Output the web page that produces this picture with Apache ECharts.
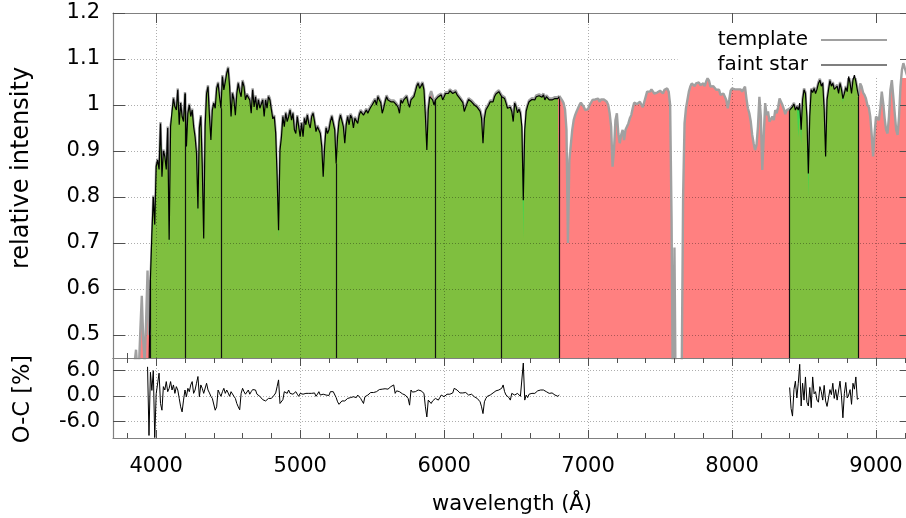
<!DOCTYPE html>
<html>
<head>
<meta charset="utf-8">
<script src="https://cdn.jsdelivr.net/npm/echarts@6/dist/echarts.min.js"></script>
<style>
  html, body { margin: 0; padding: 0; background: #fff; }
  #chart { width: 906px; height: 518px; }
</style>
</head>
<body>
<div id="chart"></div>
<script>
// Wavelength grid spacing (Angstrom) shared by every spectrum below
const STEP = 10;

// Template spectrum, 3700..9250 A, one row per 100 A
const templateStart = 3700;
const templateFlux = [
  0.30,0.30,0.30,0.30,0.30,0.30,0.30,0.30,0.30,0.30,
  0.30,0.30,0.30,0.35,0.40,0.44,0.468,0.42,0.43,0.51,
  0.585,0.49,0.44,0.53,0.64,0.50,0.62,0.70,0.803,0.73,
  0.869,0.883,0.863,0.963,0.84,0.903,0.891,0.863,0.953,0.69,
  0.956,0.975,1.017,0.999,0.992,1.036,0.96,1.007,0.978,0.967,
  1.028,0.905,0.985,1.003,0.978,0.992,0.956,0.934,0.898,0.765,
  0.953,0.978,0.869,0.70,0.956,1.028,1.043,0.978,0.927,0.992,
  1.007,0.996,1.039,1.05,1.021,0.996,1.065,1.036,1.054,1.072,
  1.083,1.043,0.97,1.028,1.014,0.981,1.028,1.05,1.032,1.021,
  1.054,1.043,1.014,1.025,1.028,1.014,0.985,1.036,0.999,1.021,
  0.992,1.014,0.996,0.992,1.014,0.978,1.014,0.996,1.021,1.014,
  0.993,0.973,0.978,0.941,0.83,0.71,0.905,0.933,0.978,0.956,
  0.985,0.967,0.978,0.992,0.97,0.985,0.949,0.941,0.978,0.956,
  0.934,0.963,0.934,0.974,0.96,0.981,0.963,0.953,0.978,0.985,
  0.967,0.945,0.956,0.953,0.941,0.912,0.837,0.912,0.953,0.941,
  0.949,0.967,0.978,0.974,0.949,0.876,0.934,0.967,0.981,0.981,
  0.956,0.92,0.96,0.978,0.96,0.981,0.974,0.953,0.974,0.978,
  0.963,0.981,0.989,0.989,0.981,0.978,0.992,0.985,0.992,0.998,
  1.003,1.005,1.014,1.003,1.021,1.014,1.008,0.985,0.996,1.01,
  1.021,1.014,1.014,1.01,1.007,1.01,1.014,1.003,0.998,0.985,
  1.014,1.007,1.014,1.017,1.021,1.007,0.998,1.014,1.014,1.021,
  1.032,1.044,1.05,1.039,1.043,1.05,1.036,0.99,0.94,0.995,
  1.021,1.03,1.02,1.003,1.014,1.017,1.021,1.023,1.025,1.014,
  1.021,1.028,1.032,1.028,1.034,1.036,1.028,1.025,1.032,1.025,
  1.021,1.017,1.014,1.008,0.989,0.985,1.007,1.015,1.014,1.01,
  1.007,1.003,1.001,0.998,0.994,0.989,0.978,0.94,0.976,0.992,
  0.996,1.003,1.01,1.014,1.01,1.021,1.027,1.026,1.032,1.028,
  1.021,1.025,1.017,1.007,0.996,0.992,0.998,0.989,0.967,1.007,
  0.999,0.986,0.994,0.985,0.94,0.71,0.93,0.989,1.001,1.01,
  1.014,1.015,1.017,1.014,1.021,1.017,1.023,1.025,1.02,1.025,
  1.014,1.021,1.017,1.014,1.017,1.014,1.015,1.017,1.014,1.017,
  1.02,1.015,1.01,1.004,0.99,0.946,0.70,0.88,0.88,0.946,
  0.967,0.978,0.986,0.993,1.0,1.005,1.004,0.996,0.989,0.986,
  0.991,1.0,1.005,1.011,1.009,1.012,1.011,1.014,1.007,1.012,
  1.011,1.012,1.009,1.007,1.0,0.982,0.953,0.866,0.902,0.967,
  0.982,0.938,0.917,0.935,0.946,0.924,0.946,0.95,0.96,0.971,
  0.978,0.993,1.005,1.007,1.002,1.004,1.007,1.004,0.995,0.993,
  1.018,1.029,1.031,1.029,1.034,1.031,1.025,1.029,1.027,1.029,
  1.031,1.029,1.025,1.033,1.034,1.036,1.029,1.0,0.75,0.30,
  0.69,0.30,0.30,0.30,0.35,0.40,0.80,0.96,0.993,1.011,
  1.029,1.04,1.047,1.051,1.041,1.047,1.043,1.049,1.043,1.04,
  1.047,1.041,1.051,1.058,1.053,1.04,1.038,1.041,1.038,1.033,
  1.036,1.033,1.022,1.022,1.025,1.018,1.011,0.993,1.011,1.031,
  1.036,1.04,1.034,1.031,1.034,1.036,1.034,1.029,1.025,1.04,
  1.014,0.993,0.982,0.964,0.935,0.917,0.902,0.913,0.953,1.018,
  0.975,0.859,0.931,1.004,0.978,0.986,0.964,0.96,0.975,0.967,
  0.989,0.982,0.995,1.014,1.011,1.0,0.991,0.98,0.989,0.993,
  0.992,0.994,0.999,1.005,0.992,0.999,0.93,0.975,0.915,1.014,
  1.036,1.028,0.96,0.80,0.97,1.036,1.03,1.039,1.028,1.037,
  1.05,1.057,1.044,1.05,0.992,0.885,1.014,1.036,1.056,1.044,
  1.05,1.037,1.039,1.044,1.028,1.05,1.037,1.005,1.028,1.041,
  1.032,1.065,1.05,1.028,1.057,1.068,1.054,1.036,1.021,1.047,
  1.04,1.027,1.022,1.014,1.0,0.995,0.975,0.935,0.888,0.938,
  0.975,0.978,0.967,0.993,1.029,1.004,0.971,0.946,0.938,0.975,
  1.033,1.054,1.018,0.982,0.946,0.935,0.975,1.04,1.076,1.091,
  1.08,1.07,1.06,1.05,1.045,1.04
];

// Faint star, blue part: 3950..6800 A
const starStart1 = 3950;
const starFlux1 = [
  0.42,0.62,0.72,0.80,0.74,
  0.866,0.88,0.86,0.96,0.844,0.90,0.888,0.86,0.95,0.707,
  0.953,0.986,1.014,0.996,0.989,1.033,0.957,1.004,0.975,0.964,
  1.025,0.91,0.982,1.0,0.975,0.989,0.953,0.931,0.895,0.775,
  0.95,0.975,0.866,0.71,0.953,1.025,1.04,0.975,0.924,0.989,
  1.004,0.993,1.036,1.047,1.018,0.993,1.062,1.033,1.051,1.069,
  1.08,1.04,0.975,1.025,1.011,0.978,1.025,1.047,1.029,1.018,
  1.051,1.04,1.011,1.022,1.025,1.011,0.982,1.033,0.996,1.018,
  0.989,1.011,0.993,0.989,1.011,0.975,1.011,0.993,1.018,1.011,
  0.99,0.97,0.975,0.938,0.844,0.728,0.902,0.93,0.975,0.953,
  0.982,0.964,0.975,0.989,0.967,0.982,0.946,0.938,0.975,0.953,
  0.931,0.96,0.931,0.971,0.957,0.978,0.96,0.95,0.975,0.982,
  0.964,0.942,0.953,0.95,0.938,0.909,0.844,0.909,0.95,0.938,
  0.946,0.964,0.975,0.971,0.946,0.873,0.931,0.964,0.978,0.978,
  0.953,0.917,0.957,0.975,0.957,0.978,0.971,0.95,0.971,0.975,
  0.96,0.978,0.986,0.986,0.978,0.975,0.989,0.982,0.989,0.995,
  1.0,1.002,1.011,1.0,1.018,1.011,1.005,0.982,0.993,1.007,
  1.018,1.011,1.011,1.007,1.004,1.007,1.011,1.0,0.995,0.982,
  1.011,1.004,1.011,1.014,1.018,1.004,0.995,1.011,1.011,1.018,
  1.029,1.041,1.047,1.036,1.04,1.047,1.033,0.975,0.902,0.989,
  1.018,1.02,1.011,1.0,1.011,1.014,1.018,1.02,1.022,1.011,
  1.018,1.025,1.029,1.025,1.031,1.033,1.025,1.022,1.029,1.022,
  1.018,1.014,1.011,1.005,0.986,0.982,1.004,1.012,1.011,1.007,
  1.004,1.0,0.998,0.995,0.991,0.986,0.971,0.917,0.971,0.989,
  0.993,1.0,1.007,1.011,1.007,1.018,1.024,1.023,1.029,1.025,
  1.018,1.022,1.014,1.004,0.993,0.989,0.995,0.986,0.964,1.004,
  0.996,0.983,0.991,0.982,0.953,0.793,0.946,0.986,0.998,1.007,
  1.011,1.012,1.014,1.011,1.018,1.014,1.02,1.022,1.017,1.022,
  1.011,1.018,1.014,1.011,1.014,1.011,1.012,1.014,1.011,1.014,
  1.018
];

// Faint star, Ca II triplet part: 8400..8880 A
const starStart2 = 8400;
const starFlux2 = [
  0.989,0.991,0.996,1.002,0.989,0.996,0.989,1.004,0.946,1.011,
  1.033,1.025,0.975,0.851,0.975,1.033,1.027,1.036,1.025,1.034,
  1.047,1.054,1.041,1.047,0.989,0.888,1.011,1.033,1.053,1.041,
  1.047,1.034,1.036,1.041,1.025,1.047,1.034,1.014,1.025,1.038,
  1.029,1.062,1.047,1.025,1.054,1.065,1.051,1.033,1.018
];

// Observed minus computed, percent
const ocStart1 = 3940;
const ocPct1 = [
  6.9,-9.4,5.6,1.3,6.0,-9.9,
  0.5,0.6,5.4,-1.8,-3.4,2.2,1.4,3.4,1.0,1.8,
  3.4,1.4,2.6,0.6,2.2,1.4,-0.6,-2.6,-3.8,-1.0,
  1.4,-0.2,1.8,1.0,2.6,3.4,0.6,1.4,3.0,4.6,
  -0.2,2.6,1.8,0.6,0.2,3.0,1.4,0.7,-0.1,-0.6,
  -0.6,-3.4,-2.6,1.4,0.6,-0.1,1.0,1.8,0.6,1.4,
  0.7,-0.1,1.0,0.7,-0.1,-0.6,-1.8,-2.6,-3.3,0.6,
  1.8,1.0,0.4,0.4,1.4,0.4,1.0,1.5,1.8,1.4,
  0.4,0.6,-0.1,-0.2,-0.9,-0.6,-1.2,-1.0,-0.6,-0.4,
  -0.6,-0.2,0.2,0.7,2.2,3.8,-1.8,-2.2,-0.9,1.0,
  0.7,0.6,1.4,0.6,1.0,0.4,0.7,1.0,0.4,-0.1,
  0.6,0.7,0.4,0.1,0.6,0.9,0.6,0.2,0.6,0.4,
  0.7,-0.1,0.4,1.0,0.2,0.6,0.4,0.7,0.2,-0.1,
  0.1,1.0,1.4,1.0,0.7,-0.4,-1.4,-2.0,-1.8,-1.2,
  -1.0,-1.2,-0.9,-0.6,-0.9,-0.4,-0.6,-0.2,-0.1,-0.4,
  0.2,-0.2,-0.6,-1.0,-1.8,-0.2,0.0,0.2,0.4,0.8,
  1.0,0.8,0.6,1.0,1.4,1.5,1.8,1.6,1.5,1.7,
  1.8,1.6,1.9,2.2,2.5,2.6,0.6,1.2,1.4,1.0,
  0.6,0.5,0.3,0.2,0.2,-0.6,-2.2,1.4,0.9,1.2,
  1.0,1.2,1.4,1.4,1.2,1.4,0.6,-2.6,-5.0,-1.0,
  -0.6,-1.8,-1.2,-0.9,-0.6,-0.9,-1.0,-0.4,0.2,-0.1,
  -0.2,-0.1,0.4,0.6,0.4,0.2,0.7,1.8,1.5,1.4,
  1.4,0.7,0.6,0.7,1.0,0.8,0.4,0.2,0.6,0.4,
  0.2,-0.2,-0.4,-0.6,-0.6,-1.4,-2.6,-4.2,-1.4,-0.6,
  -0.1,0.2,0.2,0.6,0.7,1.0,1.2,1.4,1.4,1.6,
  1.8,2.6,1.0,0.2,-0.1,-0.4,-1.0,0.6,0.3,0.2,
  0.4,0.6,0.2,-0.1,-0.2,7.8,-1.0,0.2,-0.4,0.4,
  0.6,0.6,0.4,0.6,0.7,1.2,1.0,1.4,1.1,1.4,
  1.4,1.0,0.7,0.6,0.6,0.7,0.4,0.2,0.2,-0.1,
  0.2
];
const ocStart2 = 8400;
const ocPct2 = [
  2.0,-3.0,-4.8,1.5,3.5,-0.5,3.0,7.5,-2.4,3.0,
  -1.0,4.5,-1.5,-2.4,2.0,-2.8,4.5,0.5,1.0,-1.0,
  -1.5,2.2,1.0,-1.0,2.5,-1.2,-2.5,-2.5,1.5,0.3,
  3.0,-0.6,1.5,-1.0,-1.2,3.5,0.0,-5.2,0.5,3.2,
  -0.5,0.2,1.5,-2.0,3.0,1.6,4.5,-0.8,-0.6
];

// Boundaries between the merged spectral pieces of the faint star
const pieceEdges = [3960, 4200, 4450, 5250, 5940, 6400, 6800, 8400, 8880];

// Axis ticks and labels
const xMajor = [4000, 5000, 6000, 7000, 8000, 9000];
const xMinor = [3800, 4000, 4200, 4400, 4600, 4800, 5000, 5200, 5400, 5600, 5800,
  6000, 6200, 6400, 6600, 6800, 7000, 7200, 7400, 7600, 7800, 8000, 8200, 8400,
  8600, 8800, 9000, 9200];
const yFluxTicks = [0.5, 0.6, 0.7, 0.8, 0.9, 1.0, 1.1, 1.2];
const yOcTicks = [-6, 0, 6];

// ---------------------------------------------------------------
const FONT = 'DejaVu Sans';
const RED = '#ff8080';
const OLIVE = '#7fbf3f';
const BRIGHT = '#3fd84e';
const GRAY = '#a0a0a0';
const FRAME = '#808080';
const TICK = '#505050';
const X_MIN = 3700, X_MAX = 9250;
const Y_MIN = 0.45, Y_MAX = 1.2;

const starRanges = [
  [starStart1, starStart1 + (starFlux1.length - 1) * STEP],
  [starStart2, starStart2 + (starFlux2.length - 1) * STEP]
];
const inRange = (w) => starRanges.some(([a, b]) => w >= a && w <= b);
const strictlyInRange = (w) => starRanges.some(([a, b]) => w > a && w < b);

const templatePts = templateFlux.map((v, i) => [templateStart + i * STEP, v]);
const tmplAt = new Map(templatePts.map(p => [p[0], p[1]]));

const starPts = [];
const starAt = new Map();
starFlux1.forEach((v, i) => { const w = starStart1 + i * STEP; starPts.push([w, v]); starAt.set(w, v); });
starPts.push([starRanges[0][1] + STEP, '-']);
starFlux2.forEach((v, i) => { const w = starStart2 + i * STEP; starPts.push([w, v]); starAt.set(w, v); });

// area under both curves (lower envelope) inside the star ranges
const lowerPts = starPts.map(p => p[1] === '-' ? p : [p[0], Math.min(p[1], tmplAt.get(p[0]))]);

const tmplInside = templatePts.map(p => inRange(p[0]) ? p : [p[0], '-']);
const tmplOutside = templatePts.map(p => strictlyInRange(p[0]) ? [p[0], '-'] : p);

const ocPts = [];
ocPct1.forEach((v, i) => ocPts.push([ocStart1 + i * STEP, v]));
ocPts.push([ocStart1 + ocPct1.length * STEP, '-']);
ocPct2.forEach((v, i) => ocPts.push([ocStart2 + i * STEP, v]));

const dotted = { color: 'rgba(0,0,0,0.32)', width: 1, type: [1, 2] };

function xAx(grid, position, extra) {
  return Object.assign({
    type: 'value', gridIndex: grid, position: position, min: X_MIN, max: X_MAX,
    splitLine: { show: false }, axisLabel: { show: false },
    axisTick: { show: false }, axisLine: { show: false, onZero: false }, z: 11
  }, extra);
}
function yAx(grid, position, min, max, extra) {
  return Object.assign({
    type: 'value', gridIndex: grid, position: position, min: min, max: max,
    splitLine: { show: false }, axisLabel: { show: false },
    axisTick: { show: false },
    axisLine: { show: true, onZero: false, lineStyle: { color: FRAME, width: 1.2 } }, z: 11
  }, extra);
}
const frameLine = { show: true, onZero: false, lineStyle: { color: FRAME, width: 1.2 } };
const tick = (len, values) => ({ show: true, inside: true, length: len, customValues: values, lineStyle: { color: TICK, width: 1 } });

const lineBase = { type: 'line', showSymbol: false, symbol: 'none', silent: true, animation: false, connectNulls: false };

const option = {
  animation: false,
  backgroundColor: '#ffffff',
  textStyle: { fontFamily: FONT },
  grid: [
    { left: 113, top: 13, width: 799, height: 345, show: false, containLabel: false, outerBoundsMode: 'none' },
    { left: 113, top: 358, width: 799, height: 80, show: false, containLabel: false, outerBoundsMode: 'none' }
  ],
  xAxis: [
    xAx(0, 'bottom', { axisLine: frameLine }),
    xAx(0, 'bottom', { axisTick: tick(10, xMajor), z: 0 }),
    xAx(0, 'bottom', { axisTick: tick(5, xMinor), z: 0 }),
    xAx(0, 'top', { axisLine: frameLine, axisTick: tick(10, xMajor) }),
    xAx(1, 'bottom', {
      axisLine: frameLine, axisTick: tick(8, xMajor),
      axisLabel: { show: true, customValues: xMajor, fontSize: 21, fontFamily: FONT, color: '#000', margin: 18,
        hideOverlap: false, formatter: v => String(v) }
    }),
    xAx(1, 'bottom', { axisTick: tick(5, xMinor) }),
    xAx(1, 'top', { axisLine: frameLine, axisTick: tick(8, xMajor) }),
    xAx(1, 'top', { axisTick: tick(5, xMinor) })
  ],
  yAxis: [
    yAx(0, 'left', Y_MIN, Y_MAX, {
      axisTick: tick(12, yFluxTicks),
      axisLabel: { show: true, customValues: yFluxTicks, fontSize: 21, fontFamily: FONT, color: '#000', margin: 13,
        formatter: v => String(Math.round(v * 10) / 10) }
    }),
    yAx(0, 'right', Y_MIN, Y_MAX, { axisTick: tick(12, yFluxTicks) }),
    yAx(1, 'left', -10, 9, {
      axisTick: tick(12, yOcTicks),
      axisLabel: { show: true, customValues: yOcTicks, fontSize: 21, fontFamily: FONT, color: '#000', margin: 13,
        formatter: v => Number(v).toFixed(1) }
    }),
    yAx(1, 'right', -10, 9, { axisTick: tick(12, yOcTicks) })
  ],
  legend: {
    data: [
      { name: 'template', icon: 'path://M0,0M0,14M0,6H66V8H0Z' },
      { name: 'faint star', icon: 'path://M0,0M0,14M0,6.4H66V7.6H0Z' }
    ],
    orient: 'vertical', right: -6, top: 14, align: 'right',
    itemWidth: 66, itemHeight: 14, itemGap: 5,
    padding: [16, 25, 3, 40],
    backgroundColor: '#ffffff',
    selectedMode: false,
    itemStyle: { borderWidth: 0 },
    textStyle: { fontSize: 20, fontFamily: FONT, color: '#000', padding: [0, 8, 0, 0] },
    z: 8
  },
  graphic: [
    { type: 'text', x: 22, y: 168, rotation: Math.PI / 2, silent: true,
      style: { text: 'relative intensity', fontSize: 24, fontFamily: FONT, fill: '#000', align: 'center', verticalAlign: 'middle' } },
    { type: 'text', x: 23, y: 399, rotation: Math.PI / 2, silent: true,
      style: { text: 'O-C [%]', fontSize: 22.5, fontFamily: FONT, fill: '#000', align: 'center', verticalAlign: 'middle' } },
    { type: 'text', x: 512, y: 505, silent: true,
      style: { text: 'wavelength (Å)', fontSize: 21, fontFamily: FONT, fill: '#000', align: 'center', verticalAlign: 'middle' } }
  ],
  series: [
    // template filled down to the axis
    Object.assign({}, lineBase, {
      name: 'templateFill', xAxisIndex: 0, yAxisIndex: 0, data: templatePts, z: 2,
      lineStyle: { width: 0, opacity: 0 }, areaStyle: { color: RED, opacity: 1, origin: 'start' }
    }),
    // template curve where the star is also measured (sits under the fills)
    Object.assign({}, lineBase, {
      name: 'template', xAxisIndex: 0, yAxisIndex: 0, data: tmplInside, z: 3, color: GRAY,
      lineStyle: { color: GRAY, width: 2.4 }
    }),
    // star filled down to the axis
    Object.assign({}, lineBase, {
      name: 'starFill', xAxisIndex: 0, yAxisIndex: 0, data: starPts, z: 4,
      lineStyle: { width: 0, opacity: 0 }, areaStyle: { color: BRIGHT, opacity: 1, origin: 'start' },
      markLine: {
        silent: true, symbol: 'none', animation: false, z: 7, label: { show: false },
        lineStyle: { color: '#111', width: 1.2, type: 'solid' },
        data: pieceEdges.map(e => [{ coord: [e, Y_MIN] }, { coord: [e, starAt.get(e)] }])
      }
    }),
    // region under both spectra
    Object.assign({}, lineBase, {
      name: 'commonFill', xAxisIndex: 0, yAxisIndex: 0, data: lowerPts, z: 5,
      lineStyle: { width: 0, opacity: 0 }, areaStyle: { color: OLIVE, opacity: 1, origin: 'start' },
      markLine: {
        silent: true, symbol: 'none', animation: false, z: 6, label: { show: false }, lineStyle: dotted,
        data: yFluxTicks.filter(v => v < Y_MAX).map(v => ({ yAxis: v }))
          .concat(xMajor.map(v => ({ xAxis: v })))
      }
    }),
    // template curve elsewhere
    Object.assign({}, lineBase, {
      name: 'template', xAxisIndex: 0, yAxisIndex: 0, data: tmplOutside, z: 9, color: GRAY,
      lineStyle: { color: GRAY, width: 2.4 }
    }),
    // faint star curve
    Object.assign({}, lineBase, {
      name: 'faint star', xAxisIndex: 0, yAxisIndex: 0, data: starPts, z: 10, color: '#000',
      lineStyle: { color: '#000', width: 1.2 }
    }),
    // residuals
    Object.assign({}, lineBase, {
      name: 'O-C', xAxisIndex: 4, yAxisIndex: 2, data: ocPts, z: 10, color: '#000',
      lineStyle: { color: '#000', width: 1 },
      markLine: {
        silent: true, symbol: 'none', animation: false, z: 6, label: { show: false }, lineStyle: dotted,
        data: yOcTicks.map(v => ({ yAxis: v })).concat(xMajor.map(v => ({ xAxis: v })))
      }
    })
  ]
};

const chart = echarts.init(document.getElementById('chart'), null, { renderer: 'canvas' });
chart.setOption(option);
</script>
</body>
</html>
